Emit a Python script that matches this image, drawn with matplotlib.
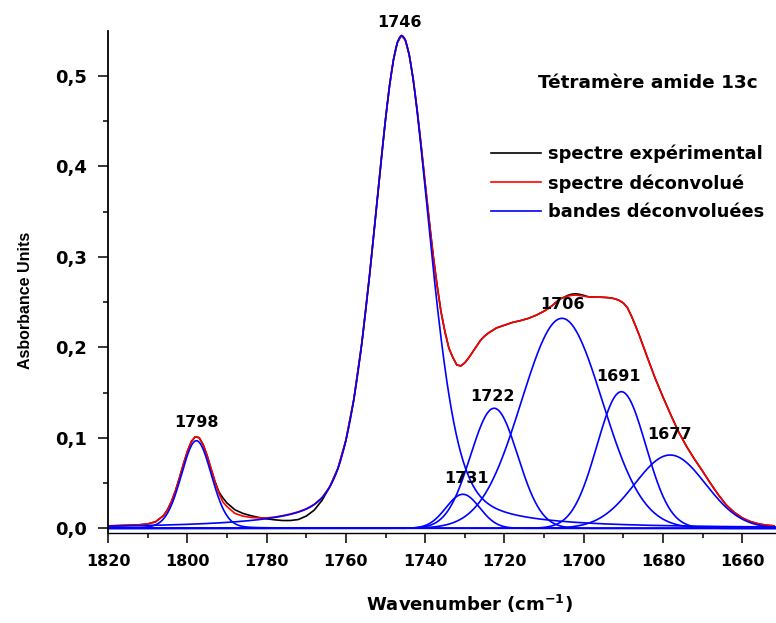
import numpy as np
import matplotlib
matplotlib.use('Agg')
import matplotlib.pyplot as plt
from matplotlib.ticker import MultipleLocator, FuncFormatter

wavenumbers = np.r_[np.arange(1820, 1805, -2), np.arange(1805, 1789, -1),
                    np.arange(1788, 1753, -2), np.arange(1753, 1723, -1),
                    np.arange(1722, 1710, -2), np.arange(1710, 1683, -1),
                    np.arange(1682, 1651, -2)]

spectre_deconvolue = [
    # 1820-1806
    0.0027, 0.0029, 0.0032, 0.0035, 0.0039, 0.0048, 0.0072, 0.0140,
    # 1805-1790
    0.0204, 0.0295, 0.0413, 0.0554, 0.0706, 0.0847, 0.0957, 0.1012, 0.1001, 0.0925,
    0.0804, 0.0658, 0.0514, 0.0384, 0.0290, 0.0240,
    # 1788-1754
    0.0165, 0.0135, 0.0120, 0.0115, 0.0115, 0.0124, 0.0139, 0.0158, 0.0182, 0.0215,
    0.0264, 0.0340, 0.0464, 0.0662, 0.0971, 0.1422, 0.2037, 0.2806,
    # 1753-1724
    0.3235, 0.3672, 0.4109, 0.4521, 0.4887, 0.5178, 0.5371, 0.5447, 0.5398, 0.5230,
    0.4961, 0.4617, 0.4226, 0.3814, 0.3412, 0.3025, 0.2689, 0.2394, 0.2171, 0.1990,
    0.1887, 0.1805, 0.1795, 0.1830, 0.1885, 0.1950, 0.2015, 0.2080, 0.2125, 0.2160,
    # 1722-1712
    0.2215, 0.2245, 0.2275, 0.2295, 0.2320, 0.2355,
    # 1710-1684
    0.2400, 0.2428, 0.2460, 0.2498, 0.2535, 0.2553, 0.2567, 0.2575, 0.2578, 0.2573,
    0.2566, 0.2560, 0.2556, 0.2555, 0.2555, 0.2553, 0.2550, 0.2545, 0.2535, 0.2518,
    0.2490, 0.2440, 0.2350, 0.2245, 0.2135, 0.2015, 0.1895,
    # 1682-1652
    0.1660, 0.1450, 0.1250, 0.1060, 0.0900, 0.0760, 0.0630, 0.0495, 0.0368, 0.0255,
    0.0175, 0.0115, 0.0075, 0.0050, 0.0035, 0.0027]

spectre_experimental = [
    # 1820-1806
    0.0027, 0.0029, 0.0032, 0.0035, 0.0039, 0.0048, 0.0072, 0.0140,
    # 1805-1790
    0.0204, 0.0295, 0.0413, 0.0554, 0.0706, 0.0847, 0.0957, 0.1012, 0.1001, 0.0925,
    0.0804, 0.0658, 0.0514, 0.0400, 0.0335, 0.0280,
    # 1788-1754
    0.0205, 0.0165, 0.0140, 0.0120, 0.0105, 0.0094, 0.0086, 0.0086, 0.0097, 0.0135,
    0.0200, 0.0310, 0.0464, 0.0662, 0.0971, 0.1422, 0.2037, 0.2806,
    # 1753-1724
    0.3235, 0.3672, 0.4109, 0.4521, 0.4887, 0.5178, 0.5371, 0.5447, 0.5398, 0.5230,
    0.4961, 0.4617, 0.4226, 0.3814, 0.3412, 0.3025, 0.2689, 0.2394, 0.2171, 0.1990,
    0.1887, 0.1805, 0.1795, 0.1830, 0.1885, 0.1950, 0.2015, 0.2080, 0.2125, 0.2160,
    # 1722-1712
    0.2215, 0.2245, 0.2275, 0.2295, 0.2320, 0.2355,
    # 1710-1684
    0.2400, 0.2428, 0.2460, 0.2498, 0.2535, 0.2553, 0.2575, 0.2588, 0.2592, 0.2586,
    0.2575, 0.2560, 0.2556, 0.2555, 0.2555, 0.2553, 0.2550, 0.2545, 0.2535, 0.2518,
    0.2490, 0.2440, 0.2350, 0.2245, 0.2135, 0.2015, 0.1895,
    # 1682-1652
    0.1660, 0.1450, 0.1250, 0.1060, 0.0900, 0.0760, 0.0630, 0.0495, 0.0368, 0.0255,
    0.0175, 0.0115, 0.0075, 0.0050, 0.0035, 0.0027]

# deconvoluted bands: centre (cm-1), height (AU), FWHM (cm-1), lorentzian fraction
band_centers = [1797.7, 1745.9, 1730.5, 1722.6, 1705.5, 1690.5, 1678.2]
band_heights = [0.0968, 0.5445, 0.0376, 0.1327, 0.2321, 0.151, 0.081]
band_fwhm = [9.0, 16.6, 10.0, 14.0, 24.0, 14.5, 21.0]
band_lorentz = [0.1, 0.35, 0.0, 0.0, 0.0, 0.0, 0.0]

peak_labels = ['1798', '1746', '1731', '1722', '1706', '1691', '1677']
label_x = [1797.6, 1746.4, 1729.5, 1723.0, 1705.3, 1691.2, 1678.3]
label_y = [0.1164, 0.5586, 0.0545, 0.146, 0.247, 0.1675, 0.1036]


def pseudo_voigt(x, c, h, w, eta):
    g = np.exp(-4 * np.log(2) * (x - c) ** 2 / w ** 2)
    l = (w / 2) ** 2 / ((x - c) ** 2 + (w / 2) ** 2)
    return h * (eta * l + (1 - eta) * g)


wn = np.linspace(1825, 1648, 1500)

bold = {'family': 'DejaVu Sans', 'weight': 'bold'}

fig = plt.figure(figsize=(7.76, 6.23), dpi=100)
ax = fig.add_axes([108 / 776, 1 - 533 / 623, 1 - 108 / 776, (533 - 31) / 623])

ax.plot(wavenumbers, spectre_experimental, color='black', lw=1.2,
        solid_joinstyle='round', label='spectre expérimental')
ax.plot(wavenumbers, spectre_deconvolue, color='#ff0000', lw=1.2,
        solid_joinstyle='round', label='spectre déconvolué')
for i, (c, h, w, e) in enumerate(zip(band_centers, band_heights, band_fwhm, band_lorentz)):
    ax.plot(wn, pseudo_voigt(wn, c, h, w, e), color='#0000ff', lw=1.2,
            label='bandes déconvoluées' if i == 0 else None)

for t, x, y in zip(peak_labels, label_x, label_y):
    ax.text(x, y, t, ha='center', va='center', fontsize=11.5, **bold)

ax.set_xlim(1820, 1651.5)
ax.set_ylim(-0.0052, 0.5497)
ax.xaxis.set_major_locator(MultipleLocator(20))
ax.xaxis.set_minor_locator(MultipleLocator(10))
ax.yaxis.set_major_locator(MultipleLocator(0.1))
ax.yaxis.set_minor_locator(MultipleLocator(0.05))
ax.yaxis.set_major_formatter(FuncFormatter(lambda v, p: f'{v:.1f}'.replace('.', ',')))
ax.tick_params(which='major', length=7, width=1.1, pad=8)
ax.tick_params(which='minor', length=3.5, width=1.1)
for lab in ax.get_xticklabels():
    lab.set_fontfamily('DejaVu Sans')
    lab.set_fontweight('bold')
    lab.set_fontsize(11.5)
for lab in ax.get_yticklabels():
    lab.set_fontfamily('DejaVu Sans')
    lab.set_fontweight('bold')
    lab.set_fontsize(13)
for s in ['top', 'right']:
    ax.spines[s].set_visible(False)
ax.spines['left'].set_linewidth(1.3)
ax.spines['bottom'].set_linewidth(1.0)

ax.legend(loc='upper left', bbox_to_anchor=(482 / 776, 1 - 136 / 623),
          bbox_transform=fig.transFigure, frameon=False, borderpad=0,
          handlelength=2.8, handletextpad=0.4, labelspacing=0.6,
          prop={'family': 'DejaVu Sans', 'weight': 'bold', 'size': 12.8})

fig.text(538 / 776, 1 - 83 / 623, 'Tétramère amide 13c', va='center',
         fontsize=13.3, **bold)
fig.text(469 / 776, 1 - 604 / 623, r'Wavenumber (cm$^{\mathbf{-1}}$)',
         ha='center', va='center', fontsize=13, **bold)
fig.text(26 / 776, 1 - 300 / 623, 'Asborbance Units', rotation=90,
         ha='center', va='center', fontsize=11.5,
         family='Liberation Sans', weight='bold')

fig.savefig('out.png', dpi=100)
